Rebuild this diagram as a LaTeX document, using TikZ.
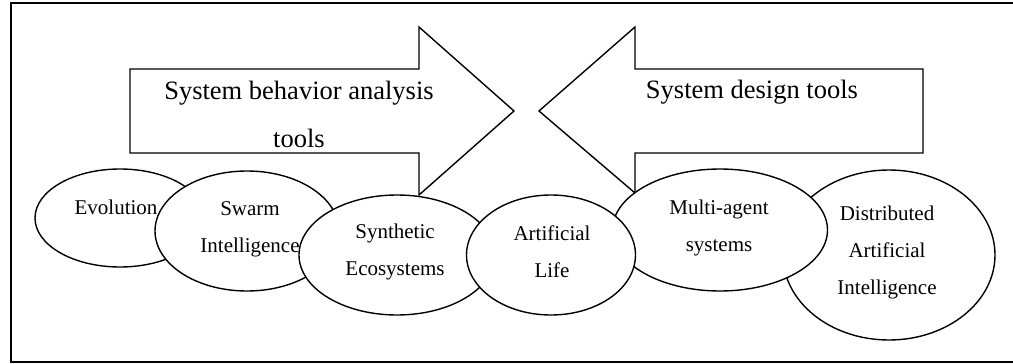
\documentclass[tikz,border=0pt]{standalone}
\usepackage{fontspec}
\setmainfont{Liberation Serif}
\usetikzlibrary{shapes.geometric}
\begin{document}
\begin{tikzpicture}[x=1pt,y=-1pt,
  frame/.style={draw,line width=2pt},
  bigarrow/.style={draw,line width=1.4pt,line join=miter,fill=white},
  blob/.style={ellipse,draw,line width=1.4pt,fill=white,inner sep=0pt},
  arrowtext/.style={font=\fontsize{26.5}{48}\selectfont,align=center,inner sep=0pt},
  blobtext/.style={font=\fontsize{21}{37}\selectfont,align=center,inner sep=0pt}]
\useasboundingbox (0,0) rectangle (1013,364);
\begin{scope}
\clip (0,0) rectangle (1013,364);
\draw[frame] (11,3) rectangle (1030,362);
\end{scope}

% right-pointing arrow
\draw[bigarrow] (130,69) -- (419,69) -- (419,27) -- (514,111) -- (419,195)
  -- (419,153) -- (130,153) -- cycle;
\node[arrowtext] (analysis) at (299,114) {System behavior analysis\\tools};

% left-pointing arrow
\draw[bigarrow] (923,69) -- (635,69) -- (635,27) -- (539,111) -- (635,193)
  -- (635,153) -- (923,153) -- cycle;
\node[arrowtext] (design) at (752,92) {System design tools};

% overlapping ellipses
\node[blob,minimum width=170,minimum height=98] (evo) at (120,218) {};
\node[blobtext] (evoT) at (116,207) {Evolution};

\node[blob,minimum width=184,minimum height=120] (swarm) at (247,231) {};
\node[blobtext] (swarmT) at (250,229) {Swarm\\Intelligence};

\node[blob,minimum width=196,minimum height=120] (synth) at (397,255) {};
\node[blobtext] (synthT) at (395,252) {Synthetic\\Ecosystems};

\node[blob,minimum width=212,minimum height=170] (dai) at (889,255) {};
\node[blobtext] (daiT) at (887,252) {Distributed\\Artificial\\Intelligence};

\node[blob,minimum width=215,minimum height=122] (mas) at (720,230) {};
\node[blobtext] (masT) at (719,228) {Multi-agent\\systems};

\node[blob,minimum width=169,minimum height=120] (alife) at (551,255) {};
\node[blobtext] (alifeT) at (552,252) {Artificial\\Life};
\end{tikzpicture}
\end{document}
